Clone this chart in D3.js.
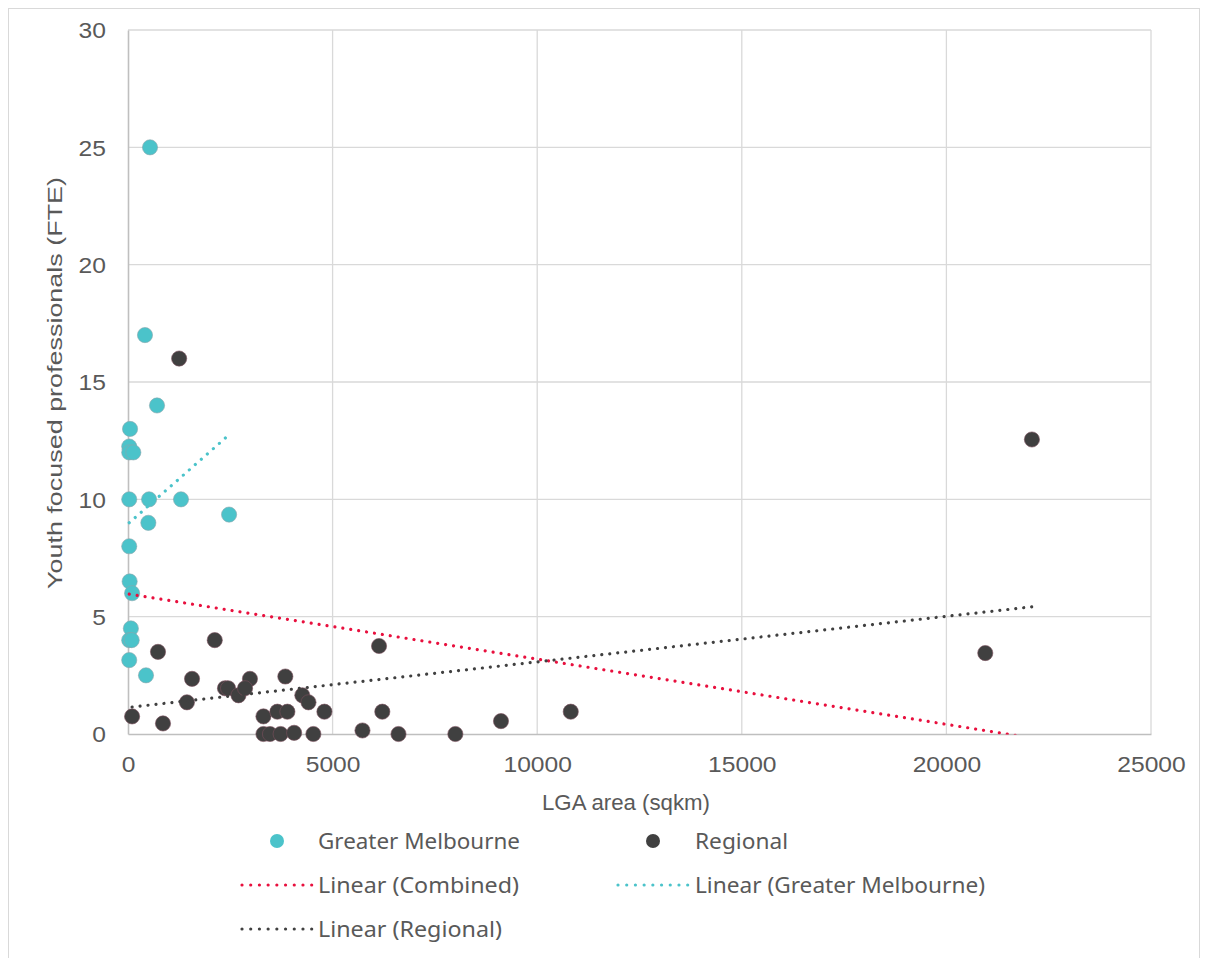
<!DOCTYPE html>
<html>
<head>
<meta charset="utf-8">
<script src="https://cdn.jsdelivr.net/npm/d3@7"></script>
<style>
  html, body { margin: 0; padding: 0; background: #fff; }
  svg { display: block; }
</style>
</head>
<body>
<svg id="chart" width="1206" height="958"></svg>
<script>
// ---- data ----
const melbourneArea = [538, 415, 709, 50, 30, 30, 130, 30, 515, 1295, 2470, 497, 30, 40, 100, 70, 30, 90, 30, 440];
const melbourneFTE  = [25, 17, 14, 13, 12.25, 12, 12, 10, 10, 10, 9.35, 9, 8, 6.5, 6, 4.5, 4, 4, 3.15, 2.5];

const regionalArea = [1250, 22090, 20950, 6135, 733, 2120, 100, 855, 1565, 1440, 2370, 2445, 2700, 2980, 2860, 3845,
                      3310, 3650, 3895, 3310, 3470, 3730, 4060, 4260, 4410, 4800, 4530, 5730, 6215, 6610, 8000, 9115, 10820];
const regionalFTE  = [16, 12.55, 3.45, 3.75, 3.5, 4, 0.75, 0.45, 2.35, 1.35, 1.95, 1.95, 1.65, 2.35, 1.95, 2.45,
                      0.75, 0.95, 0.95, 0, 0, 0, 0.05, 1.65, 1.35, 0.95, 0, 0.15, 0.95, 0, 0, 0.55, 0.95];

// trend line end points (x, y)
const trendCombined  = [[30, 5.96], [22090, -0.17]];
const trendMelbourne = [[30, 9.0], [2470, 12.75]];
const trendRegional  = [[100, 1.15], [22090, 5.42]];

const xTicks = [0, 5000, 10000, 15000, 20000, 25000];
const yTicks = [0, 5, 10, 15, 20, 25, 30];

const xTitle = "LGA area (sqkm)";
const yTitle = "Youth focused professionals (FTE)";
const legendLabels = ["Greater Melbourne", "Regional", "Linear (Combined)", "Linear (Greater Melbourne)", "Linear (Regional)"];
const legendKinds  = ["dot", "dot", "line", "line", "line"];

// ---- drawing ----
const svg = d3.select("#chart");
const axisFont = "'Liberation Sans', Arial, sans-serif";
const legendFont = "'Noto Sans', 'DejaVu Sans', sans-serif";
const textColor = "#595959";
const teal = "#4BC3CA", dark = "#404040", red = "#E8103E";
const legendColors = [teal, dark, red, teal, dark];

// outer chart border
svg.append("rect").attr("x", 8.5).attr("y", 8.5).attr("width", 1191).attr("height", 1000)
  .attr("fill", "#fff").attr("stroke", "#D9D9D9").attr("stroke-width", 1);

const x = d3.scaleLinear().domain([0, 25000]).range([128, 1151]);
const y = d3.scaleLinear().domain([0, 30]).range([734, 30]);

// gridlines
const grid = svg.append("g");
grid.selectAll("line.v").data(xTicks.slice(1)).join("line")
  .attr("x1", d => x(d)).attr("x2", d => x(d)).attr("y1", y(0)).attr("y2", y(30))
  .attr("stroke", "#D9D9D9").attr("stroke-width", 1.3);
grid.selectAll("line.h").data(yTicks.slice(1)).join("line")
  .attr("x1", x(0)).attr("x2", x(25000)).attr("y1", d => y(d)).attr("y2", d => y(d))
  .attr("stroke", "#D9D9D9").attr("stroke-width", 1.3);

// axes
const xAxis = svg.append("g").attr("transform", `translate(0,${y(0)})`)
  .call(d3.axisBottom(x).tickValues(xTicks).tickSize(0).tickPadding(22).tickFormat(d3.format("d")));
const yAxis = svg.append("g").attr("transform", `translate(${x(0)},0)`)
  .call(d3.axisLeft(y).tickValues(yTicks).tickSize(0).tickPadding(22).tickFormat(d3.format("d")));
[xAxis, yAxis].forEach(a => {
  a.select(".domain").attr("stroke", "#BFBFBF").attr("stroke-width", 1.6);
  a.selectAll("text").attr("fill", textColor).style("font-family", axisFont).style("font-size", "22px")
    .attr("textLength", function() { return this.textContent.length * 13.7; })
    .attr("lengthAdjust", "spacingAndGlyphs");
});
xAxis.selectAll("text").attr("dy", "0.71em");
yAxis.selectAll("text").attr("dy", "0.36em");

// axis titles
svg.append("text").attr("x", 626).attr("y", 810)
  .attr("text-anchor", "middle").attr("fill", textColor)
  .attr("textLength", 168).attr("lengthAdjust", "spacingAndGlyphs")
  .style("font-family", axisFont).style("font-size", "22px").text(xTitle);
svg.append("text").attr("transform", `translate(62,383) rotate(-90)`)
  .attr("text-anchor", "middle").attr("fill", textColor)
  .attr("textLength", 412).attr("lengthAdjust", "spacingAndGlyphs")
  .style("font-family", axisFont).style("font-size", "21px").text(yTitle);

// points
const melb = melbourneArea.map((a, i) => ({x: a, y: melbourneFTE[i]}));
const reg = regionalArea.map((a, i) => ({x: a, y: regionalFTE[i]}));
svg.append("g").selectAll("circle").data(melb).join("circle")
  .attr("cx", d => x(d.x)).attr("cy", d => y(d.y)).attr("r", 7.6)
  .attr("fill", teal).attr("stroke", "#8aa6ad").attr("stroke-width", 0.6);
svg.append("g").selectAll("circle").data(reg).join("circle")
  .attr("cx", d => x(d.x)).attr("cy", d => y(d.y)).attr("r", 7.6)
  .attr("fill", dark).attr("stroke", "#7a4f5c").attr("stroke-width", 0.6);

// trend lines (clipped to plot area)
svg.append("clipPath").attr("id", "plotclip").append("rect")
  .attr("x", x(0) - 2).attr("y", y(30)).attr("width", x(25000) - x(0) + 4).attr("height", y(0) - y(30) + 0.5);
const lineGen = d3.line().x(d => x(d[0])).y(d => y(d[1]));
const trends = svg.append("g").attr("clip-path", "url(#plotclip)");
[[trendCombined, red], [trendMelbourne, teal], [trendRegional, dark]].forEach(([pts, c]) => {
  trends.append("path").attr("d", lineGen(pts)).attr("fill", "none")
    .attr("stroke", c).attr("stroke-width", 3.2).attr("stroke-linecap", "round")
    .attr("stroke-dasharray", "0.01 8");
});

// legend
const legendPos = [
  {sx: 277, tx: 318, y: 841, w: 202},
  {sx: 653, tx: 695, y: 841, w: 93},
  {sx: 242, tx: 318, y: 885, w: 201},
  {sx: 618, tx: 695, y: 885, w: 290},
  {sx: 242, tx: 318, y: 929, w: 184}
];
const lg = svg.append("g");
legendLabels.forEach((label, i) => {
  const p = legendPos[i];
  if (legendKinds[i] === "dot") {
    lg.append("circle").attr("cx", p.sx).attr("cy", p.y).attr("r", 7).attr("fill", legendColors[i]);
  } else {
    lg.append("line").attr("x1", p.sx).attr("x2", p.sx + 70).attr("y1", p.y).attr("y2", p.y)
      .attr("stroke", legendColors[i]).attr("stroke-width", 3.2).attr("stroke-linecap", "round")
      .attr("stroke-dasharray", "0.01 8.7");
  }
  lg.append("text").attr("x", p.tx).attr("y", p.y).attr("dy", "0.35em").attr("fill", textColor)
    .attr("textLength", p.w).attr("lengthAdjust", "spacingAndGlyphs")
    .style("font-family", legendFont).style("font-size", "21.5px").text(label);
});
</script>
</body>
</html>
